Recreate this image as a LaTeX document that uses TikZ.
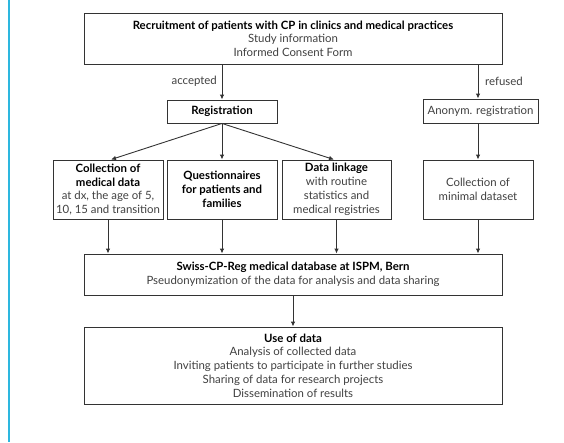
\documentclass[tikz,border=0pt]{standalone}
\usepackage{fontspec}
\setmainfont{Lato}
\usetikzlibrary{arrows.meta}
\definecolor{frame}{HTML}{333333}
\definecolor{txt}{HTML}{404040}
\definecolor{bar}{HTML}{2DB7DF}
\newcommand\bhead[1]{{\color{black}\bfseries #1}}
\begin{document}
\begin{tikzpicture}[x=1pt,y=-1pt,
  box/.style={draw=frame, line width=0.9pt, inner sep=0pt, align=center,
    font=\fontsize{11.4}{13.8}\selectfont, text=txt},
  arr/.style={draw=frame, line width=0.9pt, -{Latex[length=5pt,width=4.5pt]}},
  lbl/.style={font=\fontsize{11.4}{13}\selectfont, text=txt, inner sep=0pt}]
\useasboundingbox (0,0) rectangle (564,442);
\draw[bar, line width=1.6pt] (9,0) -- (9,442);

\node[box, minimum width=418pt, minimum height=50.5pt] (top) at (293,38.75)
  {\bhead{Recruitment of patients with CP in clinics and medical practices}\\Study information\\Informed Consent Form};

\node[box, minimum width=110pt, minimum height=23pt] (reg) at (222,111.5) {\bhead{Registration}};
\node[box, minimum width=115pt, minimum height=24pt] (anon) at (480.5,111) {Anonym. registration};

\node[box, minimum width=110pt, minimum height=59pt] (c1) at (108,189.5)
  {\bhead{Collection of}\\\bhead{medical data}\\at dx, the age of 5,\\10, 15 and transition};
\node[box, minimum width=110pt, minimum height=59pt] (c2) at (222,189.5)
  {\bhead{Questionnaires}\\\bhead{for patients and}\\\bhead{families}};
\node[box, minimum width=109pt, minimum height=59pt] (c3) at (336.5,189.5)
  {\bhead{Data linkage}\\with routine\\statistics and\\medical registries};
\node[box, minimum width=110pt, minimum height=59pt] (c4) at (478,189.5)
  {Collection of\\minimal dataset};

\node[box, minimum width=418pt, minimum height=41pt] (db) at (293,274.5)
  {\bhead{Swiss-CP-Reg medical database at ISPM, Bern}\\Pseudonymization of the data for analysis and data sharing};

\node[box, minimum width=418pt, minimum height=77pt] (use) at (293,365.5)
  {\bhead{Use of data}\\Analysis of collected data\\Inviting patients to participate in further studies\\Sharing of data for research projects\\Dissemination of results};

\draw[arr] (top.south -| reg.north) -- (reg.north);
\draw[arr] (top.south -| c4.north) -- (anon.north -| c4.north);
\node[lbl, anchor=east] (acc) at (217,81) {accepted};
\node[lbl, anchor=west] (ref) at (485,81) {refused};

\draw[arr] (reg.south) -- ([xshift=3pt]c1.north);
\draw[arr] (reg.south) -- (c2.north);
\draw[arr] (reg.south) -- ([xshift=-2.5pt]c3.north);
\draw[arr] (anon.south -| c4.north) -- (c4.north);

\draw[arr] (c1.south) -- (c1.south |- db.north);
\draw[arr] (c2.south) -- (c2.south |- db.north);
\draw[arr] (c3.south) -- (c3.south |- db.north);
\draw[arr] (c4.south) -- (c4.south |- db.north);
\draw[arr] (db.south) -- (use.north);
\end{tikzpicture}
\end{document}
